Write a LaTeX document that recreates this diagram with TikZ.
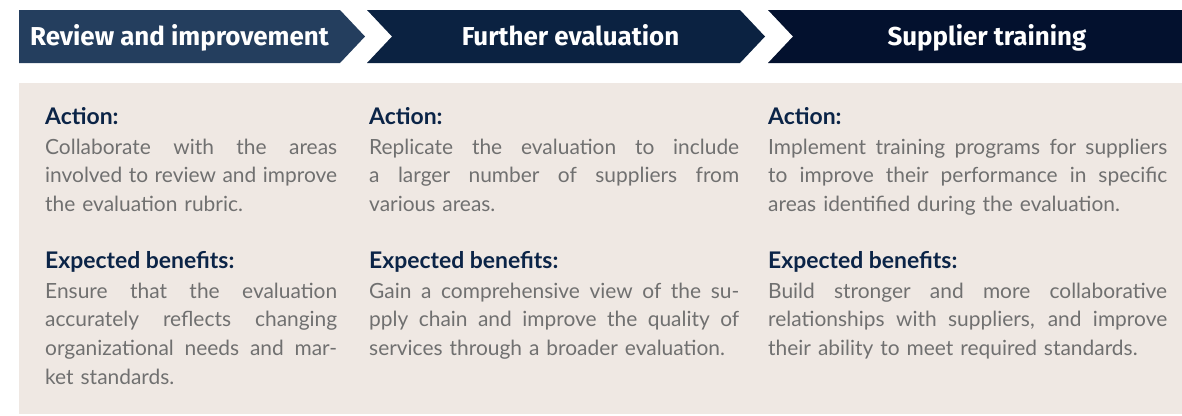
\documentclass[tikz,border=0pt]{standalone}
\usepackage{fontspec}
\setmainfont{Lato}
\newfontfamily\headfont{Fira Sans}
\definecolor{hdA}{HTML}{243E5E}
\definecolor{hdB}{HTML}{0B2241}
\definecolor{hdC}{HTML}{03112E}
\definecolor{panel}{HTML}{EFE8E3}
\definecolor{navy}{HTML}{0B2447}
\definecolor{bodygray}{HTML}{707070}
\newcommand\jl[2]{\leavevmode\hbox to #1{\spaceskip=.25em plus 1fil\relax #2}}
\tikzset{
  headtext/.style={anchor=base, inner sep=0pt, text=white, font=\headfont\bfseries\fontsize{26}{28}\selectfont},
  subhead/.style={anchor=base west, inner sep=0pt, text=navy, font=\bfseries\fontsize{23}{26}\selectfont},
  bodytext/.style={anchor=base west, inner sep=0pt, text=bodygray, align=left, font=\fontsize{21}{29}\selectfont},
}
\begin{document}
\begin{tikzpicture}[x=1bp,y=-1bp]
\useasboundingbox (0,0) rectangle (1182,415);
% header chevrons
\fill[hdA] (19,10) -- (340,10) -- (365,36.5) -- (340,63) -- (19,63) -- cycle;
\fill[hdB] (367,10) -- (740,10) -- (765,36.5) -- (740,63) -- (367,63) -- (392,36.5) -- cycle;
\fill[hdC] (768,10) -- (1182,10) -- (1182,63) -- (768,63) -- (793,36.5) -- cycle;
% panel
\fill[panel] (19,83) rectangle (1182,414);
% header texts
\node[headtext] (h1) at (179.5,45) {Review and improvement};
\node[headtext] (h2) at (570.5,45) {Further evaluation};
\node[headtext] (h3) at (987,45) {Supplier training};
% column 1
\node[subhead] (a1) at (45,124) {Action:};
\node[bodytext, text width=292bp] (a1t) at (45,154) {\jl{292bp}{Collaborate with the areas}\\ \jl{292bp}{involved to review and improve}\\ the evaluation rubric.};
\node[subhead] (b1) at (45,268) {Expected benefits:};
\node[bodytext, text width=292bp] (b1t) at (45,298) {\jl{292bp}{Ensure that the evaluation}\\ \jl{292bp}{accurately reflects changing}\\ \jl{292bp}{organizational needs and mar-}\\ ket standards.};
% column 2
\node[subhead] (a2) at (369,124) {Action:};
\node[bodytext, text width=370bp] (a2t) at (369,154) {\jl{370bp}{Replicate the evaluation to include}\\ \jl{370bp}{a larger number of suppliers from}\\ various areas.};
\node[subhead] (b2) at (369,268) {Expected benefits:};
\node[bodytext, text width=370bp] (b2t) at (369,298) {\jl{370bp}{Gain a comprehensive view of the su-}\\ \jl{370bp}{pply chain and improve the quality of}\\ services through a broader evaluation.};
% column 3
\node[subhead] (a3) at (768,124) {Action:};
\node[bodytext, text width=399bp] (a3t) at (768,154) {\jl{399bp}{Implement training programs for suppliers}\\ \jl{399bp}{to improve their performance in specific}\\ areas identified during the evaluation.};
\node[subhead] (b3) at (768,268) {Expected benefits:};
\node[bodytext, text width=399bp] (b3t) at (768,298) {\jl{399bp}{Build stronger and more collaborative}\\ \jl{399bp}{relationships with suppliers, and improve}\\ their ability to meet required standards.};
\end{tikzpicture}
\end{document}
